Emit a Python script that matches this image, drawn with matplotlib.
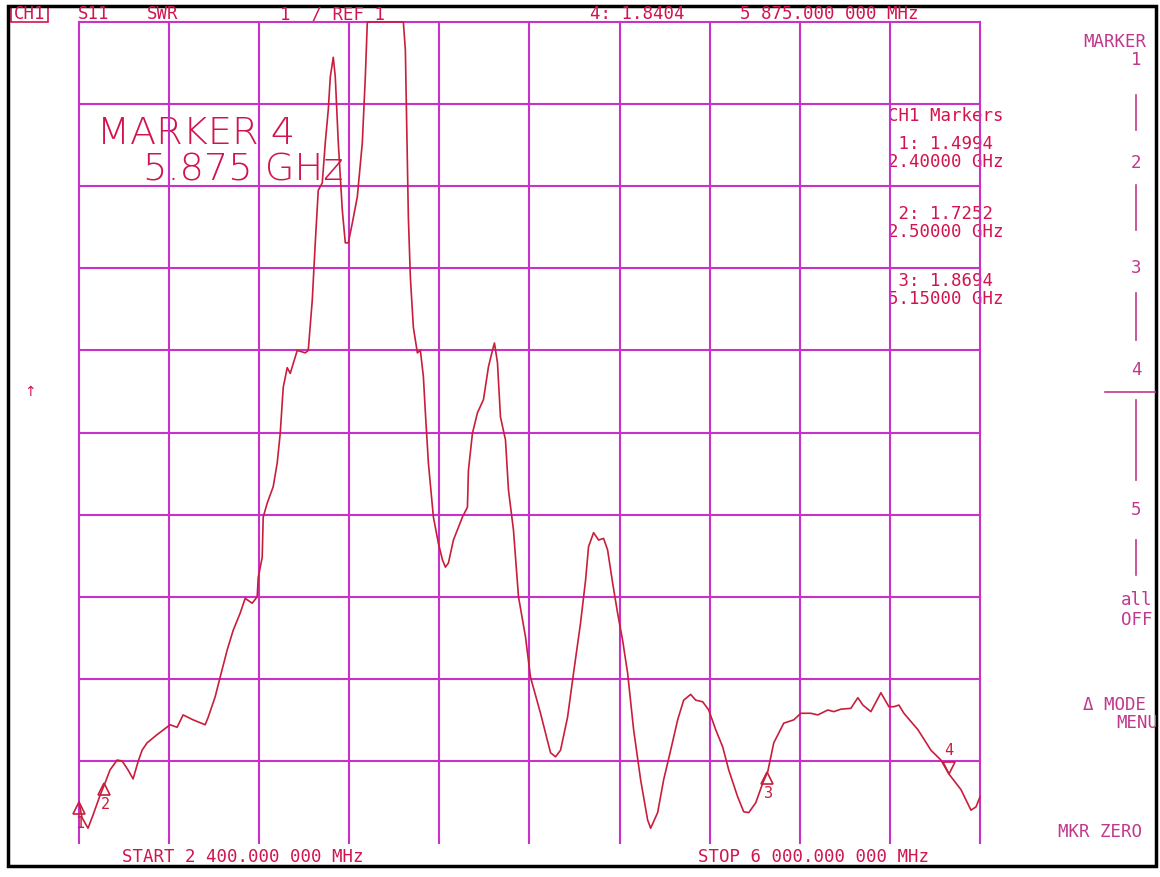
import numpy as np
import matplotlib
matplotlib.use("Agg")
import matplotlib.pyplot as plt
from matplotlib.patches import Rectangle
from matplotlib.transforms import offset_copy

# S11 SWR trace, 2.4 - 6.0 GHz
freq_ghz = [
    2.400, 2.412, 2.436, 2.456, 2.484, 2.504, 2.524, 2.552, 2.572, 2.596,
    2.616, 2.636, 2.652, 2.672, 2.712, 2.764, 2.792, 2.816, 2.856, 2.904,
    2.916, 2.944, 2.964, 2.992, 3.016, 3.044, 3.064, 3.092, 3.112, 3.116,
    3.132, 3.136, 3.152, 3.176, 3.192, 3.204, 3.216, 3.232, 3.244, 3.272,
    3.304, 3.316, 3.332, 3.344, 3.356, 3.372, 3.384, 3.396, 3.404, 3.416,
    3.424, 3.436, 3.452, 3.464, 3.476, 3.492, 3.512, 3.532, 3.544, 3.552,
    3.624, 3.696, 3.704, 3.708, 3.716, 3.724, 3.736, 3.752, 3.764, 3.776,
    3.784, 3.796, 3.816, 3.836, 3.852, 3.864, 3.876, 3.896, 3.932, 3.952,
    3.956, 3.972, 3.992, 4.016, 4.036, 4.052, 4.060, 4.072, 4.084, 4.104,
    4.116, 4.136, 4.156, 4.184, 4.204, 4.244, 4.284, 4.304, 4.324, 4.352,
    4.376, 4.404, 4.424, 4.436, 4.456, 4.476, 4.496, 4.512, 4.532, 4.552,
    4.572, 4.592, 4.616, 4.644, 4.672, 4.684, 4.712, 4.736, 4.764, 4.792,
    4.816, 4.844, 4.864, 4.892, 4.916, 4.944, 4.972, 4.996, 5.032, 5.056,
    5.076, 5.104, 5.132, 5.152, 5.176, 5.216, 5.256, 5.284, 5.324, 5.352,
    5.392, 5.416, 5.444, 5.484, 5.512, 5.532, 5.564, 5.604, 5.636, 5.656,
    5.676, 5.696, 5.752, 5.804, 5.844, 5.876, 5.924, 5.964, 5.984, 6.000,
]
swr = [
    1.50, 1.31, 1.18, 1.34, 1.58, 1.73, 1.89, 2.01, 2.00, 1.89,
    1.78, 1.99, 2.13, 2.22, 2.32, 2.44, 2.41, 2.56, 2.50, 2.44,
    2.53, 2.78, 3.02, 3.35, 3.59, 3.80, 3.98, 3.92, 4.00, 4.23,
    4.48, 4.97, 5.14, 5.34, 5.63, 5.99, 6.55, 6.79, 6.72, 7.00,
    6.97, 7.00, 7.61, 8.31, 8.95, 9.04, 9.53, 9.93, 10.33, 10.57,
    10.33, 9.53, 8.71, 8.31, 8.31, 8.55, 8.87, 9.53, 10.33, 11.00,
    11.00, 11.00, 10.66, 9.96, 8.62, 7.89, 7.28, 6.97, 7.00, 6.68,
    6.24, 5.63, 4.97, 4.65, 4.45, 4.36, 4.41, 4.69, 4.97, 5.09,
    5.54, 5.99, 6.24, 6.40, 6.80, 7.00, 7.09, 6.85, 6.19, 5.91,
    5.30, 4.81, 4.00, 3.51, 3.02, 2.58, 2.10, 2.05, 2.13, 2.53,
    3.07, 3.68, 4.20, 4.61, 4.78, 4.69, 4.71, 4.57, 4.17, 3.80,
    3.47, 3.07, 2.38, 1.77, 1.28, 1.18, 1.37, 1.77, 2.13, 2.50,
    2.74, 2.81, 2.74, 2.72, 2.62, 2.38, 2.17, 1.89, 1.56, 1.38,
    1.37, 1.49, 1.73, 1.87, 2.22, 2.46, 2.50, 2.58, 2.58, 2.56,
    2.62, 2.60, 2.63, 2.64, 2.77, 2.68, 2.60, 2.83, 2.66, 2.66,
    2.68, 2.58, 2.38, 2.13, 2.01, 1.84, 1.65, 1.40, 1.44, 1.56,
]

# marker readouts
marker_ids = ["1", "2", "3", "4"]
marker_freq = [2.400, 2.500, 5.150, 5.875]
marker_swr = [1.4994, 1.7252, 1.8694, 1.8404]

x_start, x_stop = 2.4, 6.0
y_ref, y_top = 1.0, 11.0

TRACE = "#c81e3c"
GRID = "#c832c8"
TXT = "#d2144e"
MENU = "#c0388c"
MONO = "DejaVu Sans Mono"
FS = 12.5

W, H = 1160, 877
fig = plt.figure(figsize=(W / 100, H / 100), dpi=100)
fig.patch.set_facecolor("white")

# overlay in screen pixels, clipped at the instrument frame
ov = fig.add_axes([8 / W, 1 - 866 / H, (1156 - 8) / W, (866 - 6) / H])
ov.set_xlim(8, 1156)
ov.set_ylim(866, 6)
ov.axis("off")

# main graticule
ax = fig.add_axes([79 / W, 1 - 843 / H, 901 / W, 821 / H])
ax.set_xlim(x_start, x_stop)
ax.set_ylim(y_ref, y_top)
ax.axis("off")
ax.patch.set_alpha(0)

for xv in np.linspace(x_start, x_stop, 11):
    ax.plot([xv, xv], [y_ref, y_top], color=GRID, lw=1.5, zorder=1,
            clip_on=False)
for yv in np.arange(2, 12):
    ax.plot([x_start, x_stop], [yv, yv], color=GRID, lw=1.5, zorder=1,
            clip_on=False)

ax.plot(freq_ghz, swr, color=TRACE, lw=1.2, zorder=3, clip_on=False)

# marker triangles: delta below the trace, active marker 4 above
below = offset_copy(ax.transData, fig=fig, x=0, y=-6, units="dots")
above = offset_copy(ax.transData, fig=fig, x=0, y=6, units="dots")
for mid, mf, ms in zip(marker_ids, marker_freq, marker_swr):
    if mid == "4":
        ax.plot(mf, ms, marker="v", ms=9, mfc="none", mec=TRACE, mew=1.2,
                transform=above, clip_on=False, zorder=4)
        ax.annotate(mid, (mf, ms), xytext=(0, 16), textcoords="offset pixels",
                    ha="center", va="bottom", color=TRACE, fontsize=11,
                    family=MONO)
    else:
        ax.plot(mf, ms, marker="^", ms=9, mfc="none", mec=TRACE, mew=1.2,
                transform=below, clip_on=False, zorder=4)
        ax.annotate(mid, (mf, ms), xytext=(1, -14), textcoords="offset pixels",
                    ha="center", va="top", color=TRACE, fontsize=11,
                    family=MONO)

txt = dict(color=TXT, fontsize=FS, family=MONO, va="center")

# header line
ov.text(14, 14, "CH1", **txt)
ov.add_patch(Rectangle((11, 4), 37, 18, fill=False, ec=TXT, lw=1.2))
ov.text(78, 14, "S11", **txt)
ov.text(147, 14, "SWR", **txt)
ov.text(280, 14, "1  / REF 1", **txt)
ov.text(590, 14, "4: 1.8404", **txt)
ov.text(740, 14, "5 875.000 000 MHz", **txt)

# big marker readout
ov.text(97, 133, "MARKER 4", color=TXT, fontsize=27.5, va="center",
        family="DejaVu Sans", fontweight="light")
ov.text(143, 170, "5.875 GHz", color=TXT, fontsize=27.5, va="center",
        family="DejaVu Sans", fontweight="light")

# marker table (value line and frequency line as one two-line text)
ov.text(1004, 116, "CH1 Markers", ha="right", **txt)
table = [(" 1: 1.4994", "2.40000 GHz", 153),
         (" 2: 1.7252", "2.50000 GHz", 223),
         (" 3: 1.8694", "5.15000 GHz", 290)]
for line1, line2, yy in table:
    ov.text(1004, yy, line1 + "\n" + line2, ha="right", multialignment="left",
            linespacing=0.95, **txt)

ov.text(30, 392, "\u2191", color=TXT, fontsize=10, ha="center", va="center")

# softkey menu on the right (cut off by the frame, as on the screen)
mk = dict(color=MENU, fontsize=FS, family=MONO, va="center", clip_on=True)
ov.text(1083, 42, "MARKER", **mk)
for label, yy in [("1", 60), ("2", 163), ("3", 268), ("4", 370), ("5", 510)]:
    ov.text(1136, yy, label, ha="center", **mk)
for y0, y1 in [(95, 130), (185, 230), (293, 340), (400, 480), (540, 575)]:
    ov.plot([1136, 1136], [y0, y1], color=MENU, lw=1.2)
ov.plot([1105, 1160], [392, 392], color=MENU, lw=1.2, clip_on=True)
ov.text(1121, 600, "all", **mk)
ov.text(1121, 620, "OFF", **mk)
ov.text(1083, 705, "\u0394 MODE", **mk)
ov.text(1116, 723, "MENU", **mk)
ov.text(1058, 832, "MKR ZERO", **mk)

# start / stop
ov.text(122, 857, "START 2 400.000 000 MHz", **txt)
ov.text(698, 857, "STOP 6 000.000 000 MHz", **txt)

# instrument frame
ov.add_patch(Rectangle((8, 6), 1148, 860, fill=False, ec="black", lw=2.5,
                       clip_on=False))

fig.savefig("out.png", dpi=100, facecolor="white")
